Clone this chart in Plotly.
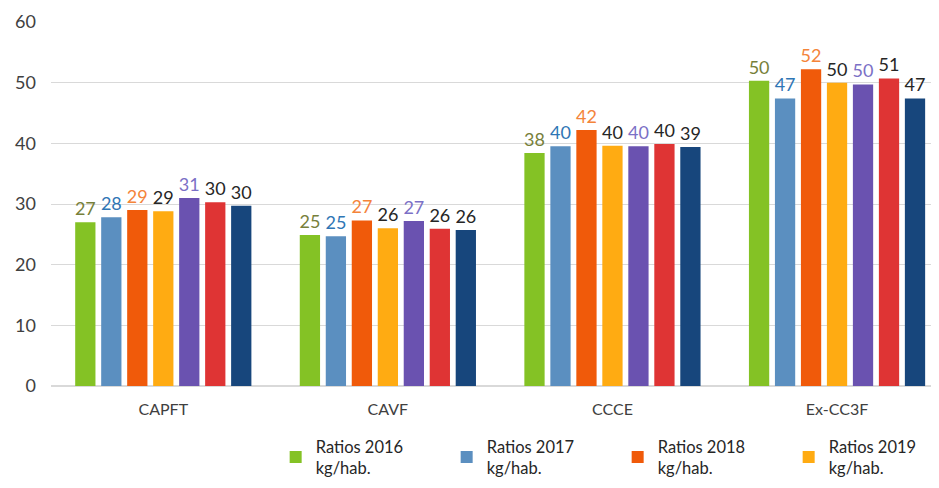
import plotly.graph_objects as go

categories = ["CAPFT", "CAVF", "CCCE", "Ex-CC3F"]
series_names = [
    "Ratios 2016<br>kg/hab.",
    "Ratios 2017<br>kg/hab.",
    "Ratios 2018<br>kg/hab.",
    "Ratios 2019<br>kg/hab.",
    "Ratios 2020<br>kg/hab.",
    "Ratios 2021<br>kg/hab.",
    "Ratios 2022<br>kg/hab.",
]
v2016 = [27.0, 24.9, 38.4, 50.3]
v2017 = [27.8, 24.7, 39.5, 47.4]
v2018 = [29.0, 27.3, 42.2, 52.2]
v2019 = [28.8, 26.0, 39.6, 50.0]
v2020 = [31.0, 27.2, 39.5, 49.7]
v2021 = [30.3, 25.9, 39.9, 50.7]
v2022 = [29.7, 25.7, 39.4, 47.4]
values = [v2016, v2017, v2018, v2019, v2020, v2021, v2022]

bar_colors = ["#84c225", "#5b8fc0", "#f05a0a", "#ffab12", "#6a52b0", "#df3434", "#17467c"]
label_colors = ["#77803a", "#2f76b5", "#f4843a", "#262626", "#7b70c6", "#262626", "#262626"]
show_legend = [True, True, True, True, False, False, False]

FONT = "Lato, 'Open Sans', sans-serif"

fig = go.Figure()
for name, vals, bc, lc, sl in zip(series_names, values, bar_colors, label_colors, show_legend):
    fig.add_trace(go.Bar(
        x=categories, y=vals, name=name,
        marker=dict(color=bc, line=dict(width=0)),
        texttemplate="%{y:.0f}", textposition="outside",
        textfont=dict(color=lc, size=18, family=FONT),
        constraintext="none",
        cliponaxis=False,
        showlegend=sl,
    ))

fig.update_layout(
    width=931, height=480,
    margin=dict(l=43, r=0, t=14, b=102, autoexpand=False),
    plot_bgcolor="white", paper_bgcolor="white",
    barmode="group", bargap=0.19, bargroupgap=0.22,
    font=dict(family=FONT, color="#404040"),
    xaxis=dict(
        type="category", range=[-0.5, 3.454],
        showgrid=False, showline=False, ticks="",
        tickfont=dict(size=16, color="#404040"),
        ticklabelstandoff=12,
    ),
    yaxis=dict(
        range=[0, 60], tickvals=[0, 10, 20, 30, 40, 50, 60],
        gridcolor="#d9d9d9", gridwidth=1, zeroline=True, zerolinecolor="#d9d9d9",
        showline=False, ticks="", tickfont=dict(size=18, color="#404040"),
        ticklabelstandoff=14,
    ),
    legend=dict(
        orientation="h", x=0.253, xanchor="left", y=-0.118, yanchor="top",
        entrywidth=126, entrywidthmode="pixels",
        font=dict(size=16.5, color="#262626"),
        itemwidth=30, tracegroupgap=0,
    ),
)

fig.write_html("out.html")
